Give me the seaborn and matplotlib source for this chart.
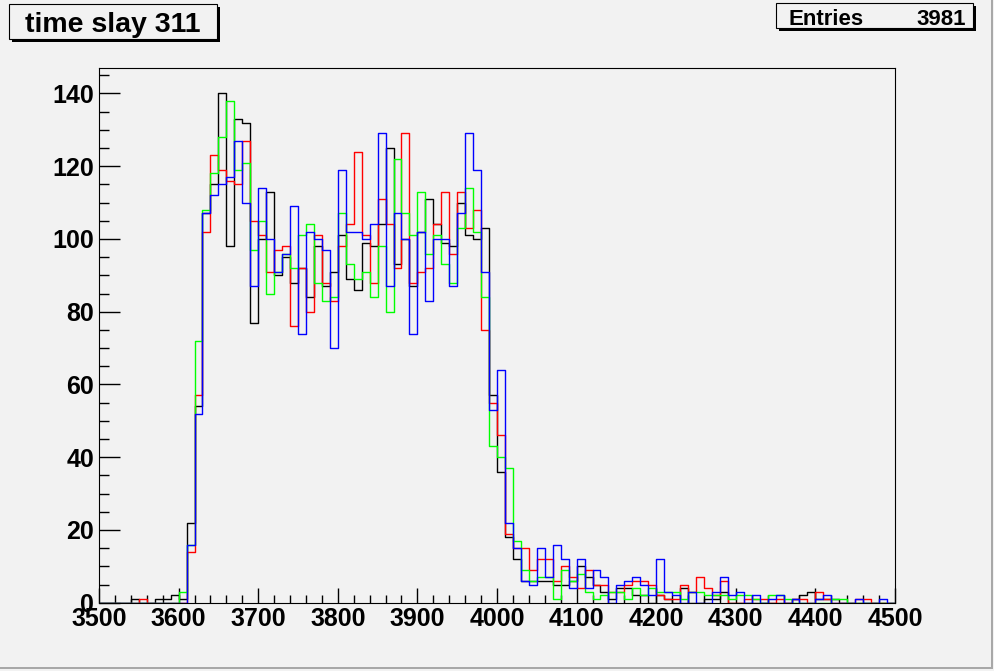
import matplotlib
matplotlib.use('Agg')
import numpy as np
import pandas as pd
import matplotlib.pyplot as plt
from matplotlib.patches import Rectangle
from matplotlib.ticker import MultipleLocator
import seaborn as sns

# histogram binning: 100 bins of width 10 from 3500 to 4500
bin_lo = 3500
bin_hi = 4500
bin_width = 10

# counts per bin
black_counts = [0, 0, 0, 0, 1, 0, 0, 1, 1, 2,
                1, 22, 54, 107, 115, 140, 98, 133, 132, 77,
                100, 113, 90, 95, 88, 92, 84, 98, 87, 91,
                101, 89, 86, 99, 98, 104, 125, 93, 100, 87,
                102, 111, 104, 99, 98, 110, 101, 100, 103, 57,
                36, 18, 12, 6, 6, 6, 6, 5, 5, 6,
                10, 7, 5, 3, 1, 4, 4, 2, 2, 0,
                2, 1, 0, 4, 0, 0, 1, 1, 3, 0,
                0, 0, 0, 0, 0, 0, 0, 1, 2, 3,
                1, 1, 1, 0, 0, 0, 0, 0, 0, 0]
red_counts = [0, 0, 0, 0, 0, 1, 0, 0, 0, 0,
              0, 14, 57, 102, 123, 119, 116, 115, 127, 105,
              101, 91, 97, 98, 76, 92, 80, 101, 88, 83,
              98, 104, 124, 101, 88, 111, 104, 92, 129, 88,
              91, 92, 104, 113, 96, 113, 103, 108, 75, 55,
              46, 19, 15, 15, 9, 12, 12, 6, 10, 7,
              4, 9, 5, 5, 3, 3, 5, 6, 6, 5,
              2, 1, 1, 5, 3, 7, 4, 2, 6, 0,
              0, 1, 1, 1, 0, 1, 0, 1, 1, 0,
              3, 1, 0, 0, 0, 1, 1, 0, 0, 0]
green_counts = [0, 0, 0, 0, 0, 0, 0, 0, 0, 0,
                3, 16, 72, 108, 118, 128, 138, 119, 121, 97,
                105, 85, 91, 96, 92, 101, 104, 88, 83, 84,
                107, 93, 89, 91, 84, 98, 80, 122, 107, 101,
                113, 96, 101, 93, 88, 103, 114, 102, 84, 43,
                40, 37, 17, 9, 6, 7, 7, 1, 9, 6,
                8, 3, 1, 2, 3, 3, 1, 4, 2, 4,
                3, 3, 3, 1, 3, 3, 2, 2, 2, 1,
                2, 2, 1, 0, 2, 2, 1, 0, 0, 0,
                0, 0, 1, 1, 0, 0, 0, 0, 0, 0]
blue_counts = [0, 0, 0, 0, 0, 0, 0, 0, 0, 0,
               0, 16, 52, 107, 112, 115, 117, 127, 110, 87,
               114, 100, 91, 96, 109, 74, 102, 100, 97, 70,
               119, 102, 102, 100, 104, 129, 87, 107, 100, 74,
               102, 83, 100, 100, 87, 107, 129, 119, 91, 53,
               64, 22, 15, 6, 5, 15, 7, 16, 12, 4,
               12, 4, 9, 7, 0, 5, 6, 7, 5, 2,
               12, 3, 2, 0, 3, 0, 0, 3, 7, 2,
               3, 0, 2, 0, 1, 2, 0, 1, 0, 0,
               1, 2, 0, 0, 0, 1, 0, 0, 1, 0]

title_text = 'time slay 311'
entries_label = 'Entries'
entries_value = '3981'

W, H = 995, 671
bg = '#f2f2f2'

plt.rcParams['font.family'] = ['Liberation Sans', 'DejaVu Sans']
plt.rcParams['font.weight'] = 'bold'

centers = np.arange(bin_lo, bin_hi, bin_width) + bin_width / 2
df = pd.DataFrame({'t': centers, 'black': black_counts, 'red': red_counts,
                   'green': green_counts, 'blue': blue_counts})

fig = plt.figure(figsize=(W / 100, H / 100), dpi=100)
fig.patch.set_facecolor(bg)
ax = fig.add_axes([99 / W, (H - 602.7) / H, 796 / W, 534.7 / H])
ax.set_facecolor(bg)

colors = {'black': '#000000', 'red': '#ff0000', 'green': '#00ff00', 'blue': '#0000ff'}
for name in ['black', 'red', 'green', 'blue']:
    sns.histplot(data=df, x='t', weights=name, binwidth=bin_width,
                 binrange=(bin_lo, bin_hi), element='step',
                 fill=False, color=colors[name], linewidth=1.0, ax=ax)

ax.set_xlim(bin_lo, bin_hi)
ax.set_ylim(0, 147)
ax.set_xlabel('')
ax.set_ylabel('')
ax.xaxis.set_major_locator(MultipleLocator(100))
ax.xaxis.set_minor_locator(MultipleLocator(20))
ax.yaxis.set_major_locator(MultipleLocator(20))
ax.yaxis.set_minor_locator(MultipleLocator(5))
ax.tick_params(axis='x', which='major', direction='in', length=11, width=1, labelsize=18, pad=3)
ax.tick_params(axis='x', which='minor', direction='in', length=5.5, width=1)
ax.tick_params(axis='y', which='major', direction='in', length=15, width=1, labelsize=18, pad=3.5)
ax.tick_params(axis='y', which='minor', direction='in', length=7.5, width=1)
for s in ax.spines.values():
    s.set_color('black')
    s.set_linewidth(0.8)


def px_rect(x0, y0, x1, y1, **kw):
    r = Rectangle((x0 / W, 1 - y1 / H), (x1 - x0) / W, (y1 - y0) / H,
                  transform=fig.transFigure, **kw)
    fig.add_artist(r)


# title box with shadow
px_rect(12, 7, 220, 42, facecolor='black', edgecolor='none')
px_rect(9, 4, 217, 39, facecolor=bg, edgecolor='black', linewidth=0.8)
fig.text(113 / W, 1 - 31.5 / H, title_text, ha='center', va='baseline', fontsize=20.5)

# stats box with shadow
px_rect(779, 6, 976, 31, facecolor='black', edgecolor='none')
px_rect(776, 3, 973, 28, facecolor=bg, edgecolor='black', linewidth=0.8)
fig.text(788 / W, 1 - 25 / H, entries_label, ha='left', va='baseline', fontsize=16)
fig.text(966 / W, 1 - 25 / H, entries_value, ha='right', va='baseline', fontsize=16)

# canvas border
px_rect(991, 0, 993, 669, facecolor='#a8a8a8', edgecolor='none')
px_rect(0, 667, 993, 669, facecolor='#a8a8a8', edgecolor='none')

fig.savefig('out.png', dpi=100, facecolor=fig.get_facecolor())
